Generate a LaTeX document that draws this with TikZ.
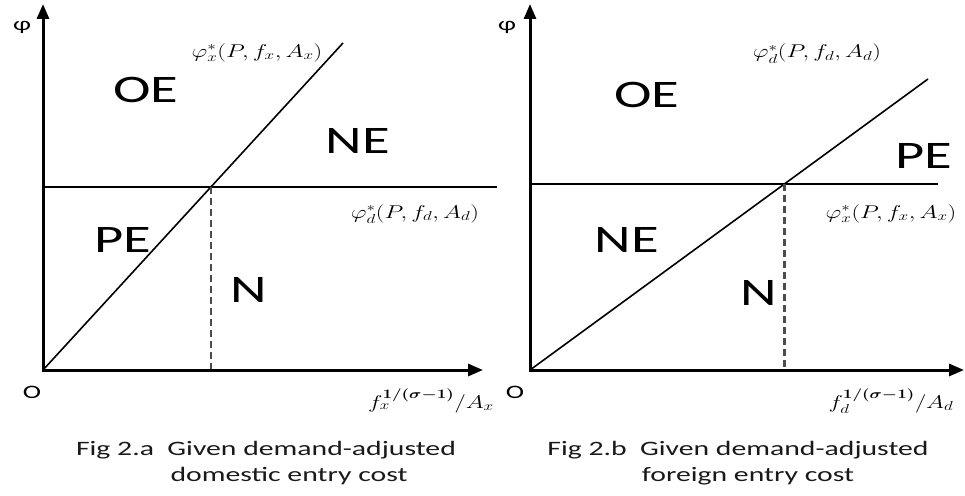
\documentclass[tikz,border=0pt]{standalone}
\usepackage{fix-cm}
\usepackage{amsmath}
\usepackage{fontspec}
\setmainfont{Carlito}
\usetikzlibrary{arrows.meta}
\newcommand{\hstretch}[1]{\scalebox{1.45}[1]{#1}}
\newcommand{\mstretch}[1]{\scalebox{1.32}[1]{#1}}
\begin{document}
\begin{tikzpicture}[x=1pt,y=-1pt,
  region/.style={inner sep=0pt, anchor=base, font=\fontsize{39}{44}\selectfont},
  mlabel/.style={inner sep=0pt, anchor=base, font=\fontsize{18.5}{22}\selectfont},
  small/.style={inner sep=0pt, anchor=center, font=\fontsize{19}{22}\selectfont},
  caption/.style={inner sep=0pt, anchor=base, font=\fontsize{20.5}{24}\selectfont, text=black!90},
  axis/.style={line width=3pt, line join=miter, {Triangle[length=15pt,width=12pt]}-{Triangle[length=15pt,width=12pt]}},
  curve/.style={line width=1.6pt},
  guide/.style={line width=2.2pt, dash pattern=on 7pt off 4pt, black!70}]
\useasboundingbox (0,0) rectangle (965,495);

% ---------- left panel ----------
\coordinate (LO) at (43,370);
\coordinate (LY) at (43,4);
\coordinate (LX) at (483,370);
\coordinate (LHs) at (43,187);
\coordinate (LHe) at (497,187);
\coordinate (LDe) at (343,43);
\coordinate (LI) at (intersection of LO--LDe and LHs--LHe);
\coordinate (LIb) at (LI |- LO);
\draw[curve] (LHs) -- (LHe);
\draw[curve] (LO) -- (LDe);
\draw[guide] (LI) -- (LIb);
\draw[axis] (LY) -- (LO) -- (LX);

\node[small] (Lphi) at (22,27) {\hstretch{φ}};
\node[small] (LOlab) at (32,392) {\hstretch{O}};
\node[region] (LOE) at (146,102) {\hstretch{OE}};
\node[region] (LNE) at (358,153) {\hstretch{NE}};
\node[region] (LPE) at (123,252) {\hstretch{PE}};
\node[region] (LN) at (249,302) {\hstretch{N}};
\node[mlabel] (Lfx) at (257,57) {\mstretch{$\varphi_x^*(P,f_x,A_x)$}};
\node[mlabel] (Lfd) at (415,218) {\mstretch{$\varphi_d^*(P,f_d,A_d)$}};
\node[mlabel] (Lax) at (431,408) {\mstretch{$f_x^{\boldsymbol{1/(\sigma-1)}}/A_x$}};
\node[caption] (Lc1) at (266,455) {\hstretch{Fig 2.a\ \ Given demand-adjusted}};
\node[caption] (Lc2) at (289,481) {\hstretch{domestic entry cost}};

% ---------- right panel ----------
\coordinate (RO) at (530,370);
\coordinate (RY) at (530,4);
\coordinate (RX) at (964,370);
\coordinate (RHs) at (530,184);
\coordinate (RHe) at (938,184);
\coordinate (RDe) at (928,79);
\coordinate (RI) at (intersection of RO--RDe and RHs--RHe);
\coordinate (RIb) at (RI |- RO);
\draw[curve] (RHs) -- (RHe);
\draw[curve] (RO) -- (RDe);
\draw[guide] (RI) -- (RIb);
\draw[axis] (RY) -- (RO) -- (RX);

\node[small] (Rphi) at (507,27) {\hstretch{φ}};
\node[small] (ROlab) at (515,392) {\hstretch{O}};
\node[region] (ROE) at (647,107) {\hstretch{OE}};
\node[region] (RPE) at (924,168) {\hstretch{PE}};
\node[region] (RNE) at (627,252) {\hstretch{NE}};
\node[region] (RN) at (759,305) {\hstretch{N}};
\node[mlabel] (Rfd) at (817,58) {\mstretch{$\varphi_d^*(P,f_d,A_d)$}};
\node[mlabel] (Rfx) at (891,218) {\mstretch{$\varphi_x^*(P,f_x,A_x)$}};
\node[mlabel] (Rax) at (891,408) {\mstretch{$f_d^{\boldsymbol{1/(\sigma-1)}}/A_d$}};
\node[caption] (Rc1) at (738,455) {\hstretch{Fig 2.b\ \ Given demand-adjusted}};
\node[caption] (Rc2) at (748,481) {\hstretch{foreign entry cost}};
\end{tikzpicture}
\end{document}
